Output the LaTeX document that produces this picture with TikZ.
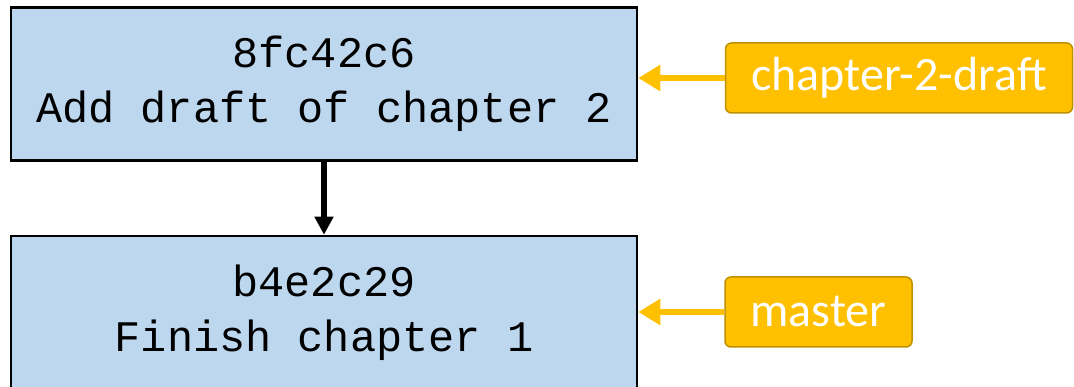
\documentclass[tikz,border=0pt]{standalone}
\usepackage{fontspec}
\newfontfamily\labelfont{Carlito}
\newfontfamily\hashfont{Liberation Mono}
\usetikzlibrary{arrows.meta}
\definecolor{commitblue}{HTML}{BDD7EE}
\definecolor{branchgold}{HTML}{FFC000}
\definecolor{branchedge}{HTML}{BF9000}
\begin{document}
\begin{tikzpicture}[x = 1pt, y = -1pt,
                    commit/.style = {shape = rectangle,
                                     fill = commitblue,
                                     draw = black,
                                     line width = 2.5pt,
                                     minimum width = 626pt,
                                     minimum height = 153pt,
                                     align = center,
                                     font = \hashfont\fontsize{43.6}{55}\selectfont},
                    branch/.style = {shape = rectangle,
                                     rounded corners = 6pt,
                                     fill = branchgold,
                                     draw = branchedge,
                                     line width = 1.5pt,
                                     text = white,
                                     inner sep = 0pt,
                                     minimum height = 70pt,
                                     font = \labelfont\fontsize{48}{56}\selectfont},
                    ref/.style = {draw = branchgold, line width = 5.5pt,
                                  -{Triangle[length = 22pt, width = 25pt]}}]
		\clip (0,0) rectangle (1074,387);
		\node[commit] (1) at (324,84) {8fc42c6\\Add draft of chapter 2};
		\node[commit] (2) at (324,312.5) {b4e2c29\\Finish chapter 1};
		\node[branch, minimum width = 347pt] (b1) at (899,78) {chapter-2-draft};
		\node[branch, minimum width = 187pt] (b2) at (818.5,312) {master};
		\draw[line width = 5.5pt, -{Triangle[length = 18pt, width = 18pt]}] (1) -- (2);
		\draw[ref] (b1.west) -- (b1.west -| 1.east);
		\draw[ref] (b2.west) -- (b2.west -| 2.east);
	\end{tikzpicture}
\end{document}
